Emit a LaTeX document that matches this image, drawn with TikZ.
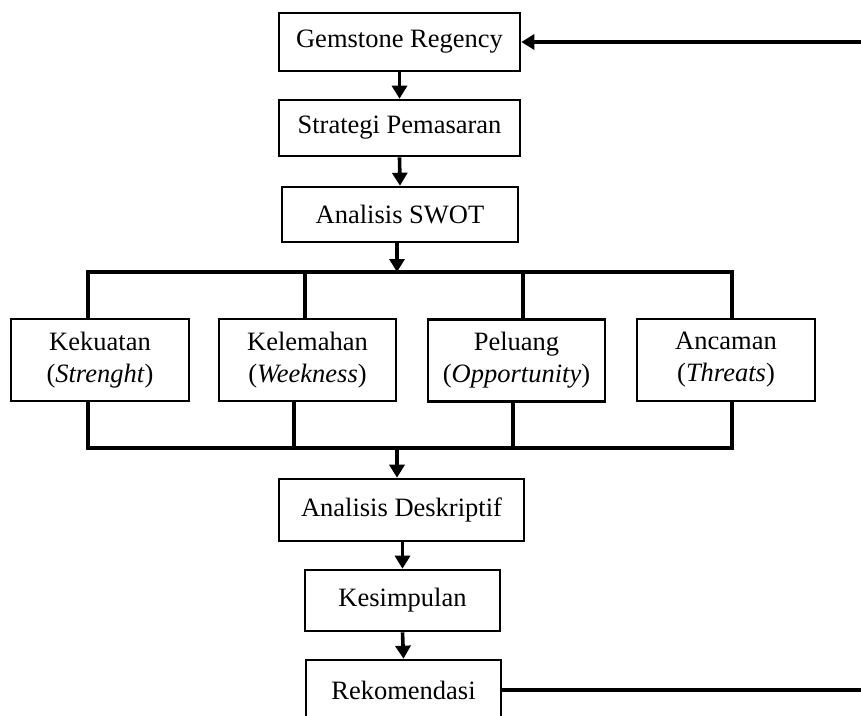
\documentclass[tikz,border=0pt]{standalone}
\usepackage{fontspec}
\setmainfont{Liberation Serif}
\usetikzlibrary{arrows.meta}
\tikzset{
  box/.style={draw, line width=2.6pt, inner sep=0pt, align=center,
    font=\fontsize{26.5}{32}\selectfont},
  conn/.style={line width=3.6pt, line join=miter},
  arr/.style={conn, -{Triangle[length=13pt,width=15pt]}}
}
\begin{document}
\begin{tikzpicture}[x=1pt,y=-1pt]
\useasboundingbox (0,0) rectangle (861,715);
\clip (0,0) rectangle (861,715);
\fill[white] (0,0) rectangle (861,715);
% main column
\node[box, minimum width=241pt, minimum height=58pt] (gem) at (399.5,42) {Gemstone Regency};
\node[box, minimum width=241pt, minimum height=56pt] (strat) at (399.5,128) {Strategi Pemasaran};
\node[box, minimum width=236pt, minimum height=55pt] (swot) at (400,214.5) {Analisis SWOT};
% SWOT boxes
\node[box, minimum width=178pt, minimum height=82pt] (kek) at (100,360) {Kekuatan\\(\textit{Strenght})};
\node[box, minimum width=177pt, minimum height=82pt] (kel) at (307.5,360) {Kelemahan\\(\textit{Weekness})};
\node[box, minimum width=177pt, minimum height=82pt] (pel) at (516.5,360.5) {Peluang\\(\textit{Opportunity})};
\node[box, minimum width=178pt, minimum height=82pt] (anc) at (726,360) {Ancaman\\(\textit{Threats})};
% lower column
\node[box, minimum width=245pt, minimum height=62pt] (desk) at (401.5,510) {Analisis Deskriptif};
\node[box, minimum width=195pt, minimum height=61pt] (kes) at (402.5,600.5) {Kesimpulan};
\node[box, minimum width=195pt, minimum height=60pt] (rek) at (403.5,690) {Rekomendasi};
% helper coordinates
\coordinate (busT) at (397,272);
\coordinate (busB) at (397,448);
\coordinate (xa) at (88,0);
\coordinate (xb) at (305,0);
\coordinate (xc) at (523,0);
\coordinate (xd) at (732,0);
\coordinate (xe) at (294,0);
\coordinate (xf) at (513,0);
\coordinate (rtop) at (861,42);
\coordinate (rbot) at (861,690);
% connectors
\draw[arr] (rtop) -- (gem.east);
\draw[arr] (gem.south) -- (strat.north);
\draw[arr] (strat.south) -- (swot.north);
\draw[arr] (swot.south -| busT) -- (busT);
\draw[conn] (kek.north -| xa) -- (xa |- busT) -- (xd |- busT) -- (anc.north -| xd);
\draw[conn] (kel.north -| xb) -- (xb |- busT);
\draw[conn] (pel.north -| xc) -- (xc |- busT);
\draw[conn] (kek.south -| xa) -- (xa |- busB) -- (xd |- busB) -- (anc.south -| xd);
\draw[conn] (kel.south -| xe) -- (xe |- busB);
\draw[conn] (pel.south -| xf) -- (xf |- busB);
\draw[arr] (busB) -- (desk.north -| busB);
\draw[arr] (desk.south -| kes.north) -- (kes.north);
\draw[arr] (kes.south) -- (rek.north);
\draw[conn] (rek.east) -- (rbot);
\end{tikzpicture}
\end{document}
